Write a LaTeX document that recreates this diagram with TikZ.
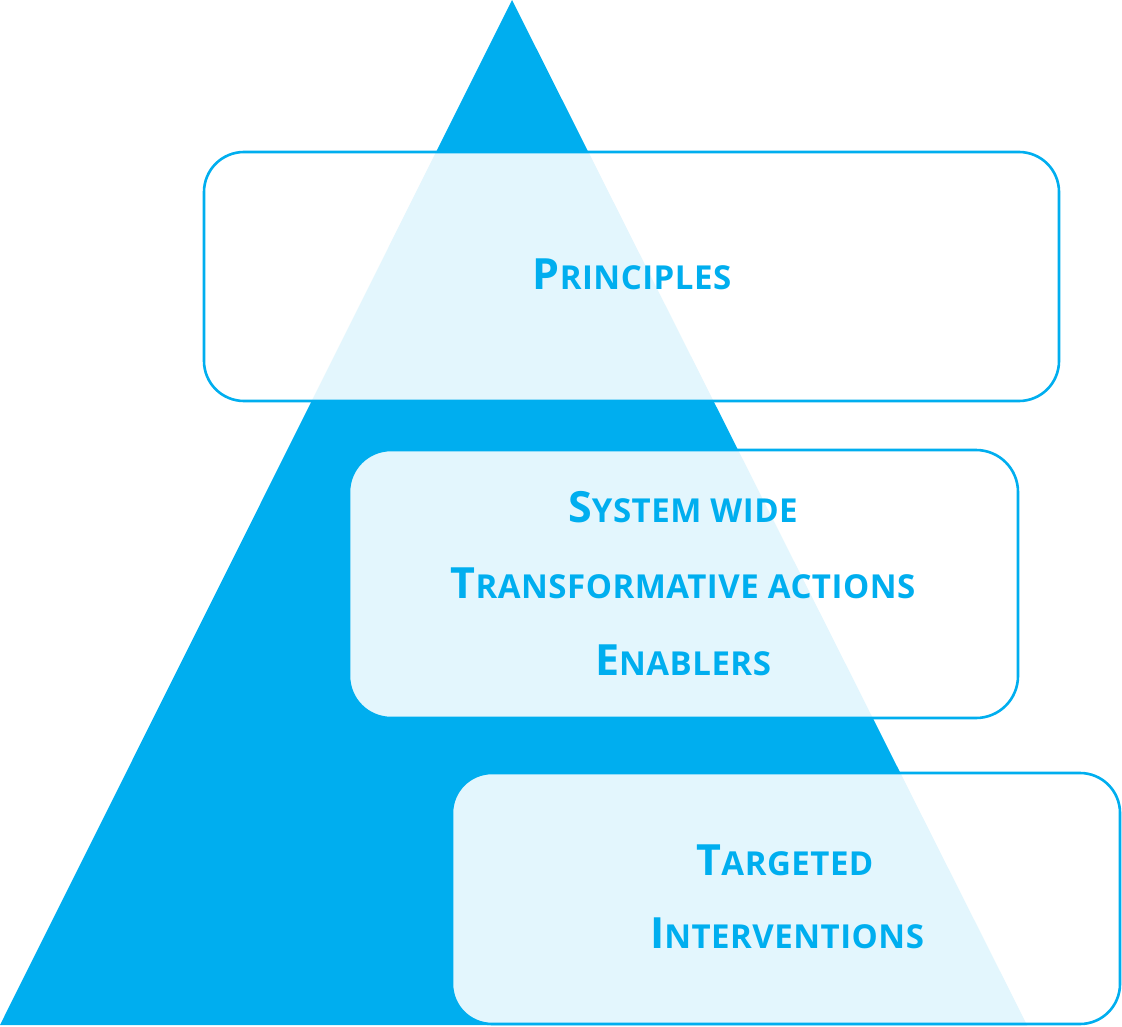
\documentclass[tikz,border=0pt]{standalone}
\usepackage{fontspec}
\setmainfont[LetterSpace=1.5]{Open Sans}
\definecolor{cyanmain}{HTML}{00AEEF}
\newcommand{\scw}[2]{{\fontsize{43}{43}\selectfont #1}{\fontsize{33}{33}\selectfont #2}}
\begin{document}
\begin{tikzpicture}[x=1pt,y=-1pt,
  tribox/.style={draw=cyanmain,line width=2.6pt,fill=white,fill opacity=0.89,draw opacity=1,rounded corners=40pt},
  label/.style={anchor=base,inner sep=0pt,text=cyanmain,font=\bfseries}]
\useasboundingbox (0,0) rectangle (1122,1027);
\fill[cyanmain] (512,0) coordinate (apex) -- (0,1025) coordinate (bl) -- (1027,1025) coordinate (br) -- cycle;
\draw[tribox] (204,152) rectangle (1059,401);
\draw[tribox,rounded corners=42pt] (349,450) rectangle (1018,718);
\draw[tribox] (452,773) rectangle (1120,1024);
\node[label] (p) at (632,290) {\scw{P}{RINCIPLES}};
\node[label] (s) at (683,522) {\scw{S}{YSTEM WIDE}};
\node[label] (t) at (683,598) {\scw{T}{RANSFORMATIVE ACTIONS}};
\node[label] (e) at (683,675) {\scw{E}{NABLERS}};
\node[label] (tg) at (785,875) {\scw{T}{ARGETED}};
\node[label] (iv) at (787,948) {\scw{I}{NTERVENTIONS}};
\end{tikzpicture}
\end{document}
